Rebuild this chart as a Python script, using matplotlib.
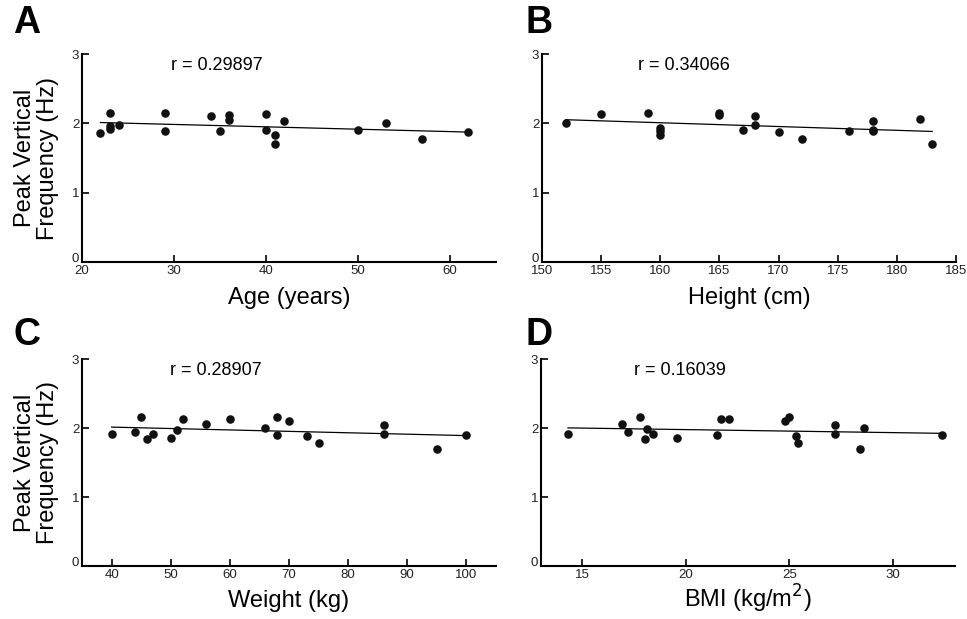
import numpy as np
import matplotlib
matplotlib.use("Agg")
import matplotlib.pyplot as plt

plt.rcParams['font.family'] = ['Liberation Sans', 'DejaVu Sans']

# datos
age = [22, 23, 23, 23, 24, 29, 29, 34, 35, 36, 36, 40, 40, 41, 41, 42, 50, 53, 57, 62]
freq_age = [1.86, 2.15, 1.92, 1.96, 1.97, 2.15, 1.89, 2.10, 1.89, 2.12, 2.05,
            2.13, 1.91, 1.83, 1.70, 2.03, 1.91, 2.00, 1.77, 1.87]

height = [152, 155, 159, 160, 160, 160, 165, 165, 167, 168, 168, 170, 172, 176,
          178, 178, 178, 182, 183]
freq_height = [2.00, 2.13, 2.15, 1.94, 1.89, 1.83, 2.15, 2.12, 1.91, 2.10, 1.98,
               1.87, 1.77, 1.89, 2.03, 1.91, 1.89, 2.06, 1.70]

weight = [40, 44, 45, 46, 47, 50, 51, 52, 56, 60, 66, 68, 68, 70, 73, 75, 86, 86, 95, 100]
freq_weight = [1.92, 1.94, 2.16, 1.84, 1.91, 1.86, 1.98, 2.14, 2.06, 2.13, 2.00,
               2.16, 1.90, 2.11, 1.88, 1.78, 2.04, 1.92, 1.70, 1.90]

bmi = [14.3, 16.9, 17.2, 17.8, 18.1, 18.0, 18.4, 19.55, 21.5, 21.7, 22.1, 24.8,
       25.0, 25.3, 25.4, 27.2, 27.2, 28.4, 28.6, 32.4]
freq_bmi = [1.92, 2.06, 1.95, 2.16, 1.99, 1.84, 1.92, 1.86, 1.90, 2.14, 2.14, 2.11,
            2.16, 1.88, 1.78, 2.04, 1.92, 1.70, 2.00, 1.90]

r_text = ['r = 0.29897', 'r = 0.34066', 'r = 0.28907', 'r = 0.16039']
letters = ['A', 'B', 'C', 'D']
xlabels = ['Age (years)', 'Height (cm)', 'Weight (kg)', 'BMI (kg/m$^2$)']

fig = plt.figure(figsize=(9.67, 6.19), dpi=100)

# posiciones de los paneles [izq, abajo, ancho, alto]
pos = [[0.0848, 0.5767, 0.428, 0.336],
       [0.5605, 0.5767, 0.428, 0.336],
       [0.0848, 0.0856, 0.428, 0.334],
       [0.5595, 0.0856, 0.428, 0.334]]
xlims = [(20, 65), (150, 185), (35, 105), (13, 33)]
xticks = [[20, 30, 40, 50, 60], [150, 155, 160, 165, 170, 175, 180, 185],
          [40, 50, 60, 70, 80, 90, 100], [15, 20, 25, 30]]
rx = [29.7, 158.1, 49.8, 17.5]
# centro de las letras de panel en pixeles
letter_xy = [(27, 23), (539, 23), (27, 335), (539, 335)]
data = [(age, freq_age), (height, freq_height), (weight, freq_weight), (bmi, freq_bmi)]

for i in range(4):
    ax = fig.add_axes(pos[i])
    x, y = np.array(data[i][0], float), np.array(data[i][1], float)
    ax.scatter(x, y, s=38, color='#111111', zorder=3, linewidths=0)
    m, c = np.polyfit(x, y, 1)  # recta de regresion
    xx = np.array([x.min(), x.max()])
    ax.plot(xx, m * xx + c, color='black', lw=0.9)
    ax.set_xlim(*xlims[i])
    ax.set_ylim(0, 3)
    ax.set_xticks(xticks[i])
    ax.set_yticks([0, 1, 2, 3])
    for s in ['top', 'right']:
        ax.spines[s].set_visible(False)
    for s in ['left', 'bottom']:
        ax.spines[s].set_linewidth(1.5)
    ax.tick_params(direction='in', length=5, width=1.2, labelsize=9.5,
                   labelcolor='#222222', pad=2)
    ax.get_yticklabels()[0].set_va('baseline')  # el 0 un poco arriba, como el original
    ax.set_xlabel(xlabels[i], fontsize=17, va='baseline')
    ax.xaxis.set_label_coords(0.5, -0.2)
    ax.text(rx[i], 2.83, r_text[i], fontsize=13, va='center')
    if i % 2 == 0:
        ax.set_ylabel('Peak Vertical\nFrequency (Hz)', fontsize=17, linespacing=1.1)
        ax.yaxis.set_label_coords(-0.055, 0.5)
    fig.text(letter_xy[i][0] / 967, 1 - letter_xy[i][1] / 619, letters[i],
             fontsize=27, fontweight='bold', va='center', ha='center')

fig.savefig('out.png', dpi=100)
